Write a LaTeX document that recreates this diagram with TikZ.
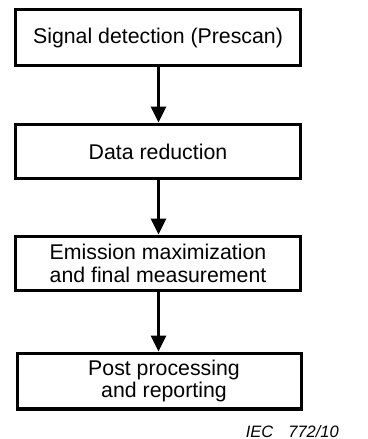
\documentclass[tikz,border=0pt]{standalone}
\usepackage{fontspec}
\setmainfont{Liberation Sans}
\usetikzlibrary{arrows.meta}
\tikzset{
  stepbox/.style={draw, line width=3.3pt, minimum width=284.7pt, minimum height=54.5pt,
    inner sep=0pt, font=\fontsize{21.3}{22.8}\selectfont, align=center},
  flow/.style={line width=3pt, -{Triangle[width=15pt,length=16pt]}},
  note/.style={font=\fontsize{16.5}{18}\selectfont\itshape, inner sep=0pt}
}
\begin{document}
\begin{tikzpicture}[x=1pt,y=-1pt]
  \useasboundingbox (0,0) rectangle (367,439);
  \node[stepbox, minimum height=55.7pt] (scan) at (158,37.5) {Signal detection (Prescan)};
  \node[stepbox] (reduce) at (158,151.5) {Data reduction};
  \node[stepbox] (maxim) at (158,263.5) {Emission maximization\\and final measurement};
  \node[stepbox, minimum width=283.7pt, minimum height=55.7pt] (post) at (159.5,381) {};
  \node[stepbox, draw=none] (posttext) at (164,381) {Post processing\\and reporting};
  \draw[flow] (scan.south -| 158.5,0) -- (reduce.north -| 158.5,0);
  \draw[flow] (reduce.south -| 158.5,0) -- (maxim.north -| 158.5,0);
  \draw[flow] (maxim.south -| 158.5,0) -- (post.north -| 158.5,0);
  \node[note, anchor=base east] (iec) at (339,437) {IEC\hspace{15pt}772/10};
\end{tikzpicture}
\end{document}
